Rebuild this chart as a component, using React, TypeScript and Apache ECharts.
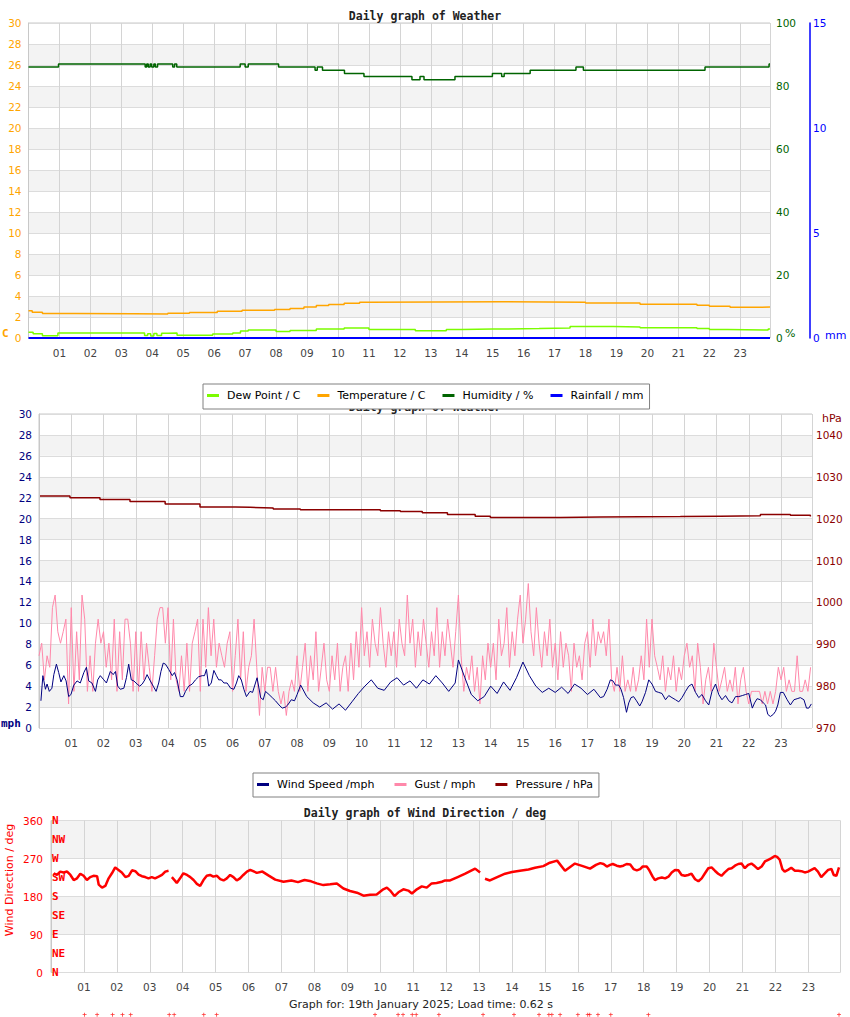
import React, { useEffect, useRef } from "react";
import * as echarts from "echarts";

// ---------- Data ----------
const X_MAX = 23.96;
const hourLabels = ["01","02","03","04","05","06","07","08","09","10","11","12","13","14","15","16","17","18","19","20","21","22","23"];
const compassLabels = ["N", "NE", "E", "SE", "S", "SW", "W", "NW", "N"];

// Chart 1 (step lines)
const humHours = [0,0.97,3.77,3.82,3.87,3.93,3.98,4.05,4.1,4.17,4.25,4.66,4.72,4.79,6.84,7.0,7.1,8.08,9.26,9.33,9.5,10.21,10.84,12.39,12.65,12.78,13.78,14.99,15.29,15.37,16.21,17.69,17.93,21.86,23.93,23.96];
const humValues = [86,87,86,87,86,87,86,87,86,87,87,86,87,86,87,86,87,86,85,86,85,84,83,82,83,82,83,84,83,84,85,86,85,86,87,87];

const tempHours = [0,0.12,0.45,1.5,3.4,4.5,5.2,6.1,6.9,7.95,8.45,8.9,9.3,9.7,10.2,10.7,11.0,15.3,18.0,19.76,21.6,22.0,22.67,23.45,23.96];
const tempValues = [2.6,2.45,2.33,2.32,2.28,2.35,2.44,2.54,2.65,2.72,2.82,2.95,3.1,3.2,3.3,3.4,3.45,3.4,3.33,3.22,3.12,3.02,2.92,2.95,2.95];

const dewHours = [0,0.15,0.45,0.95,3.75,3.85,3.95,4.05,4.15,4.3,4.5,4.8,5.95,6.6,6.85,7.1,8.0,8.45,9.3,10.2,11.0,12.5,13.5,14.0,15.0,16.5,17.5,18.9,19.76,21.6,22.0,22.6,23.9,23.96];
const dewValues = [0.55,0.4,0.22,0.47,0.25,0.4,0.2,0.42,0.25,0.45,0.47,0.27,0.38,0.48,0.67,0.76,0.63,0.72,0.85,0.95,0.8,0.7,0.8,0.85,0.9,0.95,1.1,1.05,0.98,0.9,0.82,0.76,0.85,0.85];

const rainHours = [0, X_MAX];
const rainValues = [0, 0];

// Chart 2
const windHours = [0.06,0.12,0.2,0.25,0.32,0.4,0.46,0.54,0.61,0.68,0.77,0.84,0.92,0.99,1.08,1.18,1.28,1.39,1.47,1.54,1.64,1.75,1.82,1.9,2.01,2.09,2.21,2.3,2.37,2.44,2.52,2.63,2.71,2.78,2.86,2.94,3.04,3.12,3.2,3.28,3.35,3.45,3.54,3.63,3.71,3.78,3.85,3.92,4.02,4.13,4.2,4.28,4.38,4.47,4.54,4.64,4.75,4.85,4.95,5.06,5.13,5.19,5.26,5.34,5.42,5.5,5.57,5.65,5.73,5.83,5.94,6.04,6.12,6.19,6.27,6.35,6.43,6.54,6.62,6.71,6.76,6.87,6.95,7.02,7.13,7.23,7.33,7.44,7.54,7.64,7.71,7.82,7.92,8.0,8.11,8.3,8.5,8.7,8.9,9.1,9.3,9.5,9.7,9.9,10.1,10.3,10.5,10.7,10.9,11.1,11.3,11.5,11.7,11.9,12.1,12.3,12.5,12.7,12.9,13.0,13.2,13.4,13.6,13.8,14.0,14.2,14.4,14.6,14.8,15.0,15.2,15.4,15.6,15.8,16.0,16.2,16.4,16.6,16.8,17.0,17.2,17.4,17.5,17.61,17.71,17.79,17.87,17.97,18.04,18.12,18.21,18.28,18.35,18.43,18.52,18.62,18.69,18.8,18.9,19.0,19.11,19.21,19.31,19.42,19.52,19.62,19.73,19.83,19.93,20.04,20.14,20.24,20.35,20.45,20.55,20.66,20.76,20.86,20.97,21.07,21.17,21.28,21.38,21.48,21.59,21.69,21.8,21.9,22.0,22.11,22.18,22.26,22.36,22.45,22.52,22.59,22.67,22.76,22.83,22.9,22.98,23.07,23.19,23.29,23.4,23.5,23.6,23.71,23.79,23.86,23.94];
const windValues = [2.6,5.0,3.7,4.2,3.5,3.8,5.1,6.1,5.3,4.4,5.0,4.5,3.0,3.2,4.1,4.5,4.3,5.3,5.8,4.5,4.3,3.5,4.6,5.0,4.6,4.3,5.4,5.1,5.4,4.0,3.7,3.8,4.8,6.1,4.6,4.5,4.2,4.0,4.2,4.6,5.1,4.5,4.0,3.5,4.3,5.4,6.2,6.1,5.6,5.0,5.3,4.6,3.0,3.0,3.5,4.0,4.2,4.6,4.9,5.0,5.0,5.6,4.0,4.3,5.5,5.0,4.6,4.6,4.3,4.3,3.8,3.7,4.3,5.0,4.6,3.7,3.0,3.5,3.4,4.3,4.8,2.9,2.7,3.5,3.2,2.9,2.6,2.2,1.9,2.0,2.2,2.7,2.6,3.2,4.1,3.0,2.4,2.0,2.4,1.8,2.3,1.7,2.5,3.3,4.0,4.6,3.8,3.6,4.4,4.8,4.1,4.5,3.8,4.6,4.2,5.0,4.3,3.5,4.3,6.5,4.8,3.2,2.6,3.0,4.0,3.3,4.4,3.6,4.8,6.3,5.0,4.0,3.4,3.8,3.4,3.9,3.3,4.2,3.8,3.2,3.7,2.9,3.0,3.7,4.6,4.5,4.1,4.1,3.7,2.9,1.5,2.4,2.9,3.0,2.6,2.1,2.5,3.4,4.6,4.2,3.5,3.4,3.3,2.7,3.1,2.9,2.7,2.5,2.9,3.5,4.0,4.2,3.4,2.9,3.2,2.6,2.2,3.5,4.2,3.2,2.7,3.1,2.6,2.4,3.0,3.0,3.1,3.2,3.3,1.9,2.4,2.8,2.7,2.4,2.2,1.3,1.1,1.3,1.6,2.2,3.4,3.4,2.7,2.2,2.7,2.8,2.9,2.7,1.9,1.9,2.3];

// gust, one value every 5 minutes from 00:00
const gustValues = [
  6.9,8.1,4.6,6.9,5.8,11.5,12.7,9.2,8.1,9.2,10.4,2.3,
  11.5,3.5,9.2,4.6,12.7,10.4,3.5,6.9,3.5,8.1,10.4,8.1,
  9.2,5.8,8.1,4.6,10.4,3.5,9.2,4.6,10.4,10.4,8.1,3.5,
  9.2,3.5,9.2,4.6,8.1,5.8,3.5,6.9,10.4,11.5,11.5,8.1,
  11.5,4.6,10.4,4.6,3.5,6.9,3.5,8.1,3.5,8.1,9.2,10.4,
  3.5,10.4,5.8,11.5,6.9,10.4,5.8,8.1,6.9,5.8,8.1,9.2,
  3.5,6.9,10.4,4.6,9.2,3.5,5.8,6.9,10.4,5.8,1.2,5.8,
  3.5,5.8,5.8,3.5,5.8,3.5,2.3,3.5,1.2,3.5,4.6,3.5,
  6.9,3.5,5.8,8.1,3.5,6.9,4.6,9.2,3.5,5.8,8.1,4.6,
  3.5,6.9,4.6,8.1,3.5,5.8,6.9,3.5,8.1,4.6,9.2,5.8,
  11.5,6.9,9.2,5.8,10.4,8.1,6.9,11.5,8.1,5.8,9.2,6.9,
  9.2,5.8,10.4,8.1,6.9,12.7,8.1,10.4,5.8,9.2,6.9,10.4,
  8.1,5.8,9.2,6.9,11.5,5.8,9.2,6.9,10.4,8.1,5.8,9.2,
  12.7,6.9,3.5,5.8,4.6,6.9,3.5,5.8,2.3,6.9,4.6,8.1,
  5.8,8.1,4.6,10.4,6.9,8.1,11.5,5.8,9.2,6.9,10.4,12.7,
  8.1,10.4,13.8,9.2,6.9,11.5,8.1,5.8,9.2,6.9,10.4,5.8,
  8.1,4.6,9.2,5.8,8.1,6.9,3.5,8.1,5.8,6.9,4.6,8.1,
  9.2,5.8,10.4,6.9,9.2,8.1,9.2,6.9,10.4,4.6,3.5,5.8,
  3.5,6.9,3.5,4.6,3.5,5.8,3.5,4.6,6.9,4.6,10.4,5.8,
  10.4,6.9,5.8,4.6,6.9,3.5,5.8,4.6,6.9,3.5,5.8,4.6,
  6.9,8.1,5.8,6.9,3.5,8.1,5.8,2.3,4.6,5.8,3.5,8.1,
  5.8,3.5,4.6,5.8,3.5,4.6,3.5,5.8,2.3,4.6,5.8,3.5,
  2.3,3.5,3.5,3.5,3.5,2.3,3.5,2.3,3.5,2.3,3.5,5.8,
  4.6,5.8,3.5,4.6,3.5,3.5,6.9,3.5,3.5,4.6,3.5,5.8
];

const pressHours = [0.03,0.96,1.89,2.82,3.91,4.99,6.08,6.54,7.26,8.1,10.58,11.2,11.88,12.66,13.52,13.99,16.16,17.4,19.88,21.12,22.36,23.29,23.91];
const pressValues = [1025.4,1025.0,1024.6,1024.1,1023.5,1022.8,1022.7,1022.55,1022.3,1022.1,1021.9,1021.7,1021.4,1021.0,1020.55,1020.3,1020.4,1020.5,1020.6,1020.7,1021.0,1020.8,1020.5];

// Chart 3
const dirHours = [0.08,0.18,0.28,0.38,0.49,0.59,0.69,0.79,0.89,0.99,1.09,1.19,1.29,1.4,1.45,1.55,1.65,1.75,1.85,1.95,2.05,2.15,2.26,2.36,2.46,2.56,2.66,2.76,2.86,2.96,3.06,3.16,3.27,3.37,3.47,3.57,3.62,3.67,3.77,3.82,3.92,4.02,4.13,4.23,4.33,4.43,4.53,4.63,4.73,4.83,4.93,5.04,5.14,5.24,5.34,5.44,5.54,5.64,5.74,5.84,5.95,6.05,6.25,6.42,6.6,6.81,7.06,7.3,7.5,7.7,7.9,8.07,8.27,8.48,8.68,8.88,9.08,9.29,9.49,9.69,9.89,10.09,10.2,10.3,10.43,10.55,10.7,10.85,10.96,11.11,11.26,11.41,11.56,11.71,11.87,11.97,12.12,12.35,12.58,12.88,13.03,13.1,13.18,13.33,13.55,13.79,14.0,14.24,14.5,14.7,14.95,15.15,15.37,15.61,15.91,16.15,16.37,16.55,16.68,16.78,16.88,16.98,17.06,17.18,17.28,17.38,17.48,17.59,17.69,17.79,17.89,17.97,18.09,18.17,18.27,18.34,18.44,18.55,18.65,18.75,18.85,18.95,19.05,19.15,19.25,19.35,19.45,19.56,19.66,19.76,19.86,19.96,20.06,20.16,20.26,20.36,20.46,20.57,20.67,20.77,20.87,20.97,21.07,21.17,21.27,21.37,21.47,21.58,21.68,21.78,21.88,21.98,22.05,22.13,22.21,22.28,22.38,22.48,22.59,22.69,22.79,22.89,22.99,23.09,23.19,23.29,23.39,23.49,23.6,23.7,23.77,23.85,23.93];
const dirValues = [235,231,239,237,239,231,219,223,234,229,219,226,229,228,208,201,205,223,235,249,243,237,226,229,242,240,232,228,226,223,226,223,227,231,239,241,null,226,217,212,223,235,231,226,219,210,205,219,229,231,227,229,221,218,223,231,226,218,223,231,239,243,236,239,230,220,215,218,214,219,216,211,207,209,211,199,193,189,182,184,185,197,201,194,181,190,197,194,187,197,204,201,211,212,215,218,218,226,234,246,237,null,222,218,226,234,238,241,244,248,252,260,265,241,258,252,246,255,259,257,251,255,257,253,251,253,257,256,245,242,245,251,251,242,227,219,223,225,223,227,237,243,242,231,229,231,234,221,216,223,235,247,249,241,234,229,237,245,247,253,257,258,247,255,258,252,245,251,263,267,271,276,274,267,245,239,243,248,241,241,240,237,239,243,247,239,226,234,243,245,231,229,249];

const calmHours = [1.02,1.4,1.87,2.17,2.42,3.59,3.74,4.64,5.03,9.84,10.54,10.69,10.97,11.09,11.78,13.12,14.06,14.82,15.12,15.21,15.46,16.0,16.3,16.36,16.61,17.0,18.14,23.93];
const calmValue = -100;

// ---------- Styles ----------
const FONT = "'DejaVu Sans', Verdana, sans-serif";
const MONO = "'DejaVu Sans Mono', monospace";

const pair = (h: number[], v: (number | null)[]) => h.map((x, i) => [x, v[i]]);

function xAxis(gridIndex: number) {
  return {
    type: "value", gridIndex, min: 0, max: X_MAX, interval: 1,
    axisLine: { show: false }, axisTick: { show: false },
    splitLine: { show: true, lineStyle: { color: "#d4d4d4", width: 1 } },
    axisLabel: {
      color: "#444", fontSize: 10.5, fontFamily: FONT, margin: 9,
      showMinLabel: false, showMaxLabel: false,
      formatter: (v: number) => (Number.isInteger(v) && v >= 1 && v <= 23 ? hourLabels[v - 1] : ""),
    },
  };
}

const splitArea = { show: true, areaStyle: { color: ["#ffffff", "#f3f3f3"] } };
const splitLine = { show: true, lineStyle: { color: "#dcdcdc" } };
const plain = (v: number) => String(v);

export default function App() {
  const ref = useRef<HTMLDivElement>(null);
  useEffect(() => {
    if (!ref.current) return;
    const chart = echarts.init(ref.current, undefined, { renderer: "svg" });
    const gustData = gustValues.map((v, i) => [i / 12, v]);
    const titleStyle = { fontFamily: MONO, fontWeight: "bold", fontSize: 11.5, color: "#222" };
    const option: any = {
      animation: false,
      backgroundColor: "#fff",
      title: [
        { text: "Daily graph of Weather", left: "center", top: 5, textStyle: titleStyle, z: 1 },
        { text: "Daily graph of Weather", left: "center", top: 396, textStyle: titleStyle, z: 1 },
        { text: "Daily graph of Wind Direction / deg", left: "center", top: 802, textStyle: titleStyle, z: 1 },
      ],
      legend: [
        {
          data: ["Dew Point / C", "Temperature / C", "Humidity / %", "Rainfall / mm"],
          left: 203, top: 384, icon: "rect", itemWidth: 12, itemHeight: 3, itemGap: 17,
          padding: [6, 6, 8, 4], borderColor: "#808080", borderWidth: 1, backgroundColor: "#fff",
          textStyle: { fontFamily: FONT, fontSize: 11, color: "#000", padding: [0, 0, 0, 3] },
          selectedMode: false, z: 10,
        },
        {
          data: ["Wind Speed /mph", "Gust / mph", "Pressure / hPa"],
          left: 253, top: 773, icon: "rect", itemWidth: 12, itemHeight: 3, itemGap: 20,
          padding: [6, 6, 7, 4], borderColor: "#808080", borderWidth: 1, backgroundColor: "#fff",
          textStyle: { fontFamily: FONT, fontSize: 11, color: "#000", padding: [0, 0, 0, 3] },
          selectedMode: false, z: 10,
        },
      ],
      grid: [
        { left: 28.5, top: 23, width: 741.5, height: 315, show: true, borderColor: "#c8c8c8", borderWidth: 1 },
        { left: 39, top: 414, width: 773, height: 314, show: true, borderColor: "#c8c8c8", borderWidth: 1 },
        { left: 51, top: 820.5, width: 789, height: 152, show: true, borderColor: "#c8c8c8", borderWidth: 1 },
      ],
      xAxis: [xAxis(0), xAxis(1), xAxis(2)],
      yAxis: [
        { type: "value", gridIndex: 0, min: 0, max: 30, interval: 2, position: "left",
          axisLine: { show: true, lineStyle: { color: "#c8c8c8" } }, axisTick: { show: false },
          axisLabel: { color: "#FFA500", fontSize: 10.5, fontFamily: FONT, margin: 7 }, splitLine, splitArea },
        { type: "value", gridIndex: 0, min: 0, max: 100, interval: 20, position: "right",
          axisLine: { show: false }, axisTick: { show: false }, splitLine: { show: false },
          axisLabel: { color: "#006400", fontSize: 10.5, fontFamily: FONT, margin: 6 } },
        { type: "value", gridIndex: 0, min: 0, max: 15, interval: 5, position: "right", offset: 40,
          axisLine: { show: true, lineStyle: { color: "#0000ff", width: 1.5 } }, axisTick: { show: false }, splitLine: { show: false },
          axisLabel: { color: "#0000ff", fontSize: 10.5, fontFamily: FONT, margin: 3 } },
        { type: "value", gridIndex: 1, min: 0, max: 30, interval: 2, position: "left",
          axisLine: { show: true, lineStyle: { color: "#c8c8c8" } }, axisTick: { show: false },
          axisLabel: { color: "#000080", fontSize: 10.5, fontFamily: FONT, margin: 7 }, splitLine, splitArea },
        { type: "value", gridIndex: 1, min: 970, max: 1045, interval: 10, position: "right",
          axisLine: { show: false }, axisTick: { show: false }, splitLine: { show: false },
          axisLabel: { color: "#8B0000", fontSize: 10.5, fontFamily: FONT, margin: 4, showMaxLabel: false, formatter: plain } },
        { type: "value", gridIndex: 2, min: 0, max: 360, interval: 90, position: "left",
          axisLine: { show: true, lineStyle: { color: "#c8c8c8" } }, axisTick: { show: false },
          axisLabel: { color: "#ff0000", fontSize: 10.5, fontFamily: FONT, margin: 8 }, splitLine, splitArea },
        { type: "value", gridIndex: 2, min: 0, max: 360, interval: 45, position: "left",
          axisLine: { show: false }, axisTick: { show: false }, splitLine: { show: false },
          axisLabel: { inside: true, margin: 1, color: "#ff0000", fontSize: 11, fontWeight: "bold", fontFamily: MONO,
            formatter: (v: number) => compassLabels[Math.round(v / 45)] ?? "" } },
      ],
      graphic: [
        { type: "text", x: 2, y: 333, style: { text: "C", fill: "#FFA500", font: "bold 11px 'DejaVu Sans Mono'", verticalAlign: "middle" } },
        { type: "text", x: 785, y: 333, style: { text: "%", fill: "#006400", font: "11px 'DejaVu Sans'", verticalAlign: "middle" } },
        { type: "text", x: 825, y: 335, style: { text: "mm", fill: "#0000ff", font: "11px 'DejaVu Sans'", verticalAlign: "middle" } },
        { type: "text", x: 1, y: 723, style: { text: "mph", fill: "#000080", font: "bold 11px 'DejaVu Sans Mono'", verticalAlign: "middle" } },
        { type: "text", x: 822, y: 418, style: { text: "hPa", fill: "#8B0000", font: "11px 'DejaVu Sans'", verticalAlign: "middle" } },
        { type: "text", x: 9, y: 880, rotation: Math.PI / 2, style: { text: "Wind Direction / deg", fill: "#ff0000", font: "11px 'DejaVu Sans'", align: "center", verticalAlign: "middle" } },
        { type: "text", x: 421, y: 1004, style: { text: "Graph for: 19th January 2025; Load time: 0.62 s", fill: "#222", font: "11px 'DejaVu Sans'", align: "center", verticalAlign: "middle" } },
      ],
      series: [
        { name: "Humidity / %", type: "line", xAxisIndex: 0, yAxisIndex: 1, step: "end", symbol: "none", color: "#006400", lineStyle: { width: 1.5 }, data: pair(humHours, humValues) },
        { name: "Temperature / C", type: "line", xAxisIndex: 0, yAxisIndex: 0, step: "end", symbol: "none", color: "#FFA500", lineStyle: { width: 1.5 }, data: pair(tempHours, tempValues) },
        { name: "Dew Point / C", type: "line", xAxisIndex: 0, yAxisIndex: 0, step: "end", symbol: "none", color: "#7CFC00", lineStyle: { width: 1.5 }, data: pair(dewHours, dewValues) },
        { name: "Rainfall / mm", type: "line", xAxisIndex: 0, yAxisIndex: 2, symbol: "none", color: "#0000ff", lineStyle: { width: 2 }, data: pair(rainHours, rainValues) },
        { name: "Gust / mph", type: "line", xAxisIndex: 1, yAxisIndex: 3, symbol: "none", color: "#ff88aa", lineStyle: { width: 1 }, data: gustData },
        { name: "Wind Speed /mph", type: "line", xAxisIndex: 1, yAxisIndex: 3, symbol: "none", color: "#000080", lineStyle: { width: 1 }, data: pair(windHours, windValues) },
        { name: "Pressure / hPa", type: "line", xAxisIndex: 1, yAxisIndex: 4, step: "end", symbol: "none", color: "#8B0000", lineStyle: { width: 1.5 }, data: pair(pressHours, pressValues) },
        { name: "Wind Direction", type: "line", xAxisIndex: 2, yAxisIndex: 5, symbol: "none", color: "#ff0000", lineStyle: { width: 2.5 }, connectNulls: false, data: pair(dirHours, dirValues) },
        { name: "Calm", type: "scatter", xAxisIndex: 2, yAxisIndex: 5, clip: false, symbol: "path://M2,0H3V2H5V3H3V5H2V3H0V2H2Z", symbolSize: 4, color: "#ff0000",
          data: calmHours.map((h) => [h, calmValue]) },
      ],
    };
    chart.setOption(option);
    return () => chart.dispose();
  }, []);
  return <div ref={ref} style={{ position: "absolute", left: 0, top: 0, width: 850, height: 1017 }} />;
}
